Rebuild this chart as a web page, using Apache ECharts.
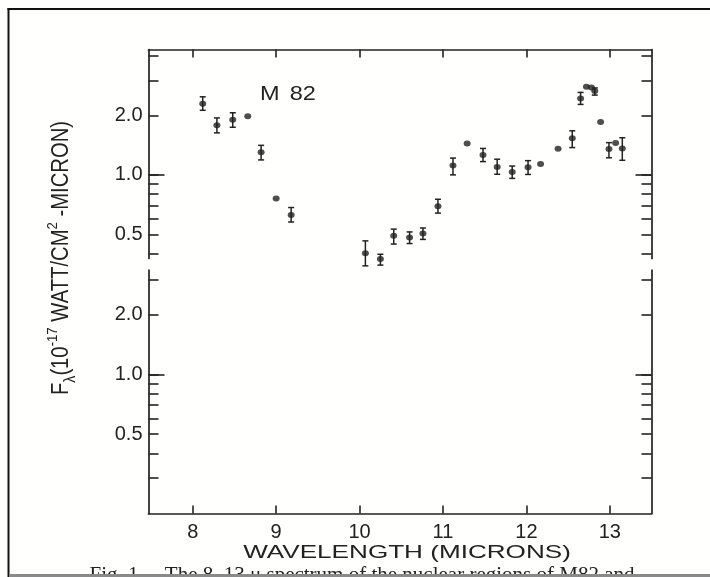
<!DOCTYPE html>
<html><head><meta charset="utf-8">
<script src="https://cdn.jsdelivr.net/npm/echarts@6/dist/echarts.min.js"></script>
<style>html,body{margin:0;padding:0;background:#fff}#c{width:710px;height:577px}</style>
</head><body><div id="c"></div>
<script>
// ---- data (wavelength in microns, flux in 1e-17 W/cm^2/micron) ----
const wavelength = [8.12, 8.29, 8.48, 8.66, 8.82, 9.00, 9.18, 10.07, 10.25, 10.41, 10.60, 10.76, 10.94, 11.12, 11.29, 11.48, 11.65, 11.83, 12.02, 12.17, 12.38, 12.55, 12.65, 12.72, 12.78, 12.82, 12.89, 12.99, 13.07, 13.15];
const flux       = [2.29, 1.78, 1.90, 1.98, 1.30, 0.76, 0.627, 0.402, 0.376, 0.492, 0.482, 0.505, 0.695, 1.114, 1.44, 1.26, 1.096, 1.033, 1.094, 1.135, 1.355, 1.53, 2.43, 2.79, 2.76, 2.65, 1.85, 1.35, 1.45, 1.36];
const fluxLow    = [2.12, 1.63, 1.74, null, 1.19, null, 0.578, 0.347, 0.35, 0.447, 0.45, 0.472, 0.641, 1.0, null, 1.167, 1.007, 0.96, 1.005, null, null, 1.374, 2.27, null, null, 2.53, null, 1.22, null, 1.185];
const fluxHigh   = [2.48, 1.94, 2.06, null, 1.41, null, 0.684, 0.464, 0.397, 0.532, 0.515, 0.539, 0.753, 1.216, null, 1.36, 1.2, 1.108, 1.18, null, null, 1.67, 2.61, null, null, 2.75, null, 1.455, null, 1.54];

const xTicks = [8, 9, 10, 11, 12, 13];
const topPanelTicks = [4, 3, 2, 1, 0.9, 0.8, 0.7, 0.6, 0.5, 0.4];
const bottomPanelTicks = [3, 2, 1, 0.9, 0.8, 0.7, 0.6, 0.5, 0.4, 0.3];
const yTickLabels = [2.0, 1.0, 0.5];
const majorTick = [1.0];
const xRange = [7.47, 13.5];
const topRange = [0.378, 4.30];
const bottomRange = [0.1986, 3.37];
const xTitle = 'WAVELENGTH (MICRONS)';
const caption = 'Fig. 1.\u2014The 8\u201313 \u03bc spectrum of the nuclear regions of M82 and';

// ---- chart ----
const ink = '#222';
const lg = v => Math.log10(v);
const font = 'Liberation Sans';

function yAx(grid, pos, range, ticks, len, line, labels) {
  return {
    type: 'value', gridIndex: grid, position: pos,
    min: lg(range[0]), max: lg(range[1]),
    splitLine: { show: false },
    axisLine: { show: line, onZero: false, lineStyle: { color: ink, width: 1.7 } },
    axisTick: { show: true, inside: true, length: len, customValues: ticks.map(lg), lineStyle: { color: ink, width: 1.6 } },
    axisLabel: labels ? {
      show: true, customValues: labels.map(lg), margin: 6,
      formatter: v => Math.pow(10, v).toFixed(1),
      color: ink, fontFamily: font, fontSize: 20
    } : { show: false }
  };
}

const pts = wavelength.map((w, i) => [w, lg(flux[i])]);
const bars = [];
wavelength.forEach((w, i) => {
  if (fluxLow[i] != null && fluxHigh[i] != null) bars.push([w, lg(fluxLow[i]), lg(fluxHigh[i])]);
});

const chart = echarts.init(document.getElementById('c'), null, { renderer: 'canvas' });
chart.setOption({
  animation: false,
  backgroundColor: '#fffffd',
  grid: [
    { left: 148.5, width: 503, top: 49.5, height: 209 },
    { left: 148.5, width: 503, top: 270, height: 243.5 }
  ],
  xAxis: [
    { type: 'value', gridIndex: 0, position: 'top', min: xRange[0], max: xRange[1],
      splitLine: { show: false },
      axisLine: { show: true, onZero: false, lineStyle: { color: ink, width: 1.7 } },
      axisTick: { inside: true, length: 8, customValues: xTicks, lineStyle: { color: ink, width: 1.6 } },
      axisLabel: { show: false } },
    { type: 'value', gridIndex: 1, position: 'bottom', min: xRange[0], max: xRange[1],
      splitLine: { show: false },
      axisLine: { show: true, onZero: false, lineStyle: { color: ink, width: 1.7 } },
      axisTick: { inside: true, length: 8, customValues: xTicks, lineStyle: { color: ink, width: 1.6 } },
      axisLabel: { show: true, customValues: xTicks, margin: 9, color: ink, fontFamily: font, fontSize: 20 } }
  ],
  yAxis: [
    yAx(0, 'left', topRange, topPanelTicks, 10, true, yTickLabels),
    yAx(0, 'right', topRange, topPanelTicks, 10, true, null),
    yAx(0, 'left', topRange, majorTick, 16, false, null),
    yAx(0, 'right', topRange, majorTick, 16, false, null),
    yAx(1, 'left', bottomRange, bottomPanelTicks, 10, true, yTickLabels),
    yAx(1, 'right', bottomRange, bottomPanelTicks, 10, true, null),
    yAx(1, 'left', bottomRange, majorTick, 16, false, null),
    yAx(1, 'right', bottomRange, majorTick, 16, false, null)
  ],
  series: [
    {
      type: 'custom', xAxisIndex: 0, yAxisIndex: 0, data: bars, silent: true, clip: false,
      renderItem: (params, api) => {
        const x = api.value(0);
        const a = api.coord([x, api.value(1)]);
        const b = api.coord([x, api.value(2)]);
        const cap = 3;
        const st = { stroke: ink, lineWidth: 1.5 };
        return { type: 'group', children: [
          { type: 'line', shape: { x1: a[0], y1: a[1], x2: b[0], y2: b[1] }, style: st },
          { type: 'line', shape: { x1: a[0] - cap, y1: a[1], x2: a[0] + cap, y2: a[1] }, style: st },
          { type: 'line', shape: { x1: b[0] - cap, y1: b[1], x2: b[0] + cap, y2: b[1] }, style: st }
        ] };
      }
    },
    {
      type: 'scatter', xAxisIndex: 0, yAxisIndex: 0, data: pts, symbol: 'circle', symbolSize: [7, 6],
      itemStyle: { color: ink }, silent: true, clip: false
    }
  ],
  graphic: [
    // scan frame
    { type: 'rect', shape: { x: 7.5, y: 8, width: 710, height: 2 }, style: { fill: '#111' } },
    { type: 'rect', shape: { x: 7.5, y: 8, width: 2, height: 577 }, style: { fill: '#111' } },
    // source label
    { type: 'text', x: 288, y: 94, scaleX: 1.12,
      style: { text: '{m|M}{d|82}', align: 'center', verticalAlign: 'middle',
        rich: { m: { fontFamily: font, fontSize: 21, fill: ink, color: ink, padding: [0, 9, 0, 0] },
                d: { fontFamily: font, fontSize: 21, fill: ink, color: ink } } } },
    // x title
    { type: 'text', x: 407, y: 553, scaleX: 1.45,
      style: { text: xTitle, fontFamily: font, fontSize: 18, fill: ink, align: 'center', verticalAlign: 'middle' } },
    // y title (rotated)
    { type: 'text', x: 62, y: 258, rotation: Math.PI / 2, scaleX: 0.88,
      style: { text: '{m|F}{sub|\u03bb}{m|(10}{sup|-17}{m| WATT/CM}{sup|2}{m| -MICRON)}', align: 'center', verticalAlign: 'middle',
        rich: {
          m: { fontFamily: font, fontSize: 23, fill: ink, color: ink, lineHeight: 34, verticalAlign: 'middle' },
          sub: { fontFamily: font, fontSize: 16, fill: ink, color: ink, lineHeight: 16, verticalAlign: 'bottom' },
          sup: { fontFamily: font, fontSize: 15, fill: ink, color: ink, lineHeight: 15, verticalAlign: 'top' }
        } } },
    // caption (cut off by the bottom of the scan)
    { type: 'text', x: 362, y: 575,
      style: { text: caption, fontFamily: 'Liberation Serif', fontSize: 21, fill: '#222', align: 'center', verticalAlign: 'middle' } },
    { type: 'rect', shape: { x: 9.5, y: 574, width: 710, height: 3 }, style: { fill: '#8a8a8a' }, z: 100 }
  ]
});
</script></body></html>
